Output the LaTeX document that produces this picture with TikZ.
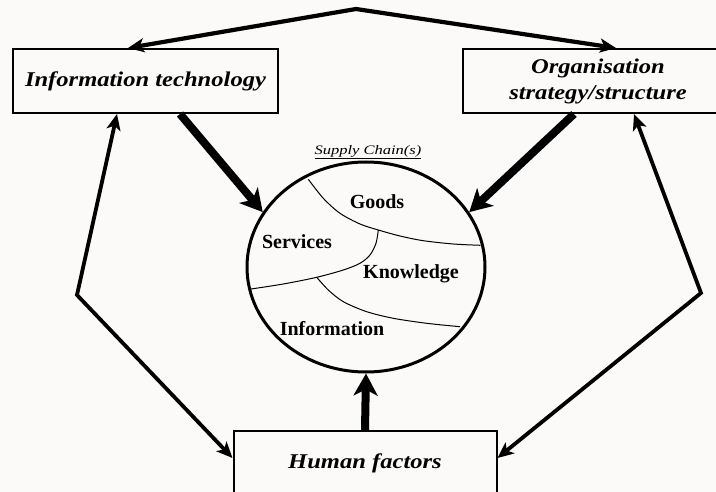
\documentclass[tikz,border=0pt]{standalone}
\usepackage{fontspec}
\setmainfont{Liberation Serif}
\newfontfamily\widefont[FakeStretch=1.17]{Liberation Serif}
\newfontfamily\scfont[FakeStretch=1.27]{Liberation Serif}
\usetikzlibrary{arrows.meta,shapes.geometric}
\definecolor{bg}{RGB}{252,250,248}
\begin{document}
\begin{tikzpicture}[x=1pt,y=-1pt,
  box/.style={draw, line width=2pt, inner sep=0pt, align=center,
    font=\widefont\bfseries\itshape\fontsize{21}{26}\selectfont},
  lbl/.style={inner sep=0pt, font=\bfseries\fontsize{20}{24}\selectfont},
  thinline/.style={line width=3.8pt, {Stealth[length=16pt,width=14pt,inset=4pt]}-{Stealth[length=16pt,width=14pt,inset=4pt]}},
  topline/.style={line width=4.2pt, {Stealth[length=16pt,width=14pt,inset=4pt]}-{Stealth[length=16pt,width=14pt,inset=4pt]}},
  thickline/.style={line width=8pt, -{Stealth[length=22pt,width=24pt,inset=6pt]}},
  divider/.style={line width=1pt}
]
\useasboundingbox (0,0) rectangle (716,492);
\clip (0,0) rectangle (716,492);
\fill[bg] (0,0) rectangle (716,492);

% boxes
\node[box, minimum width=265pt, minimum height=64pt] (it) at (145.5,81) {Information technology};
\node[box, minimum width=270pt, minimum height=64pt] (org) at (598,81) {Organisation\\strategy/structure};
\node[box, minimum width=263pt, minimum height=64pt] (hf) at (365,463) {Human factors};

% supply chain ellipse
\node[ellipse, draw, line width=3pt, minimum width=238pt, minimum height=210pt, inner sep=0pt] (sc) at (366,267) {};
\node[inner sep=0pt, font=\scfont\itshape\fontsize{13}{15}\selectfont] (sctitle) at (368,152) {\underline{Supply Chain(s)}};

% dividing curves
\draw[divider] plot[smooth] coordinates {(308.3,179.3) (323.3,198.3) (340,213.3) (360,224) (378.3,230) (400,236) (423.3,240.7) (453.3,244) (480.5,245.3)};
\draw[divider] plot[smooth] coordinates {(378.3,230) (376,243.3) (370,255) (360,263.3) (343.3,270) (316.7,277.3) (283.3,284) (249,289.3)};
\draw[divider] plot[smooth] coordinates {(316.7,277.3) (328.3,290) (343.3,301.7) (366.7,311.7) (393.3,318.3) (426.7,323.3) (460,326.7)};

\node[lbl] (goods) at (377,202) {Goods};
\node[lbl] (services) at (297,242) {Services};
\node[lbl] (knowledge) at (411,274) {Knowledge};
\node[lbl] (information) at (332,329) {Information};

% top connector
\coordinate (apex) at (356,9);
\draw[topline] ([xshift=-17.5pt]it.north) -- (apex) -- ([xshift=18pt]org.north);

% thick arrows to supply chain
\draw[thickline] ([xshift=34.5pt]it.south) -- (sc.152);
\draw[thickline] ([xshift=-24pt]org.south) -- (sc.28);
\draw[thickline] (hf.north) -- (sc.south);

% side connectors
\coordinate (bendL) at (77,295);
\coordinate (bendR) at (701,293);
\draw[thinline] ([xshift=-28.5pt]it.south) -- (bendL) -- ([yshift=5pt]hf.west);
\draw[thinline] ([xshift=36pt]org.south) -- (bendR) -- ([yshift=5pt]hf.east);
\end{tikzpicture}
\end{document}
